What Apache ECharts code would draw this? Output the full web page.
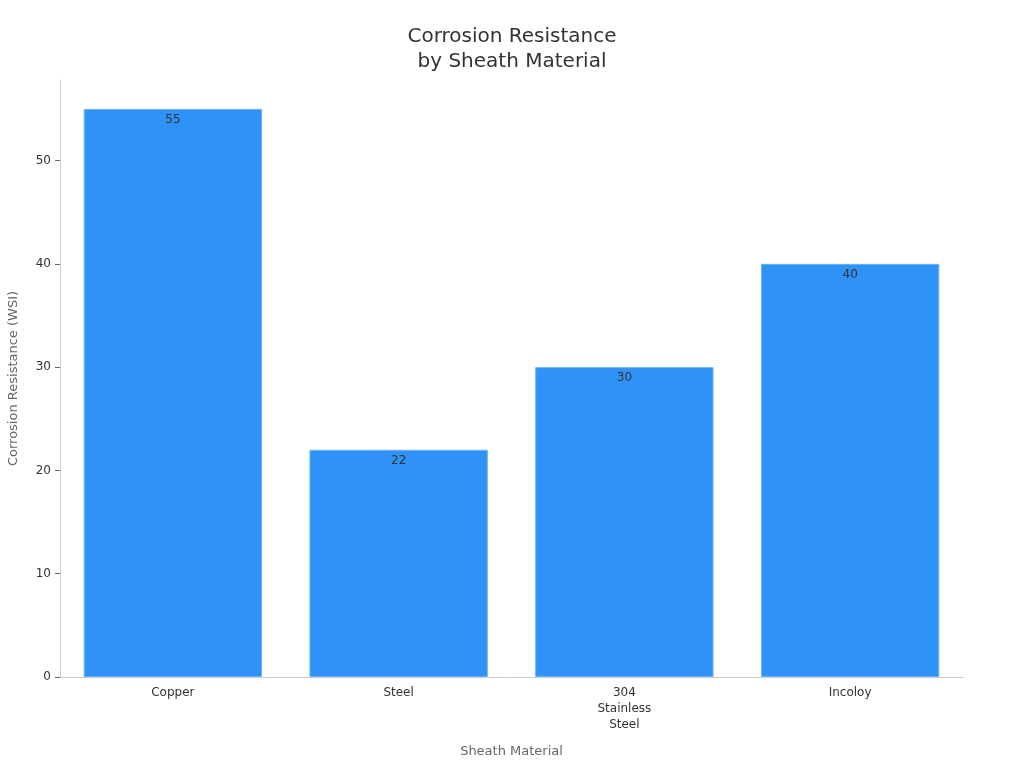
<!DOCTYPE html>
<html>
<head>
<meta charset="utf-8">
<script src="https://cdn.jsdelivr.net/npm/echarts@6/dist/echarts.min.js"></script>
<style>
    html, body { margin: 0; padding: 0; background: #fff; }
    #chart { width: 1024px; height: 768px; }
</style>
</head>
<body>
<div id="chart"></div>
<script>
var categories = ['Copper', 'Steel', '304\nStainless\nSteel', 'Incoloy'];
var resistance = [55, 22, 30, 40];
var yTicks = [0, 10, 20, 30, 40, 50];

(function () {
    var option = {
        textStyle: { fontFamily: 'DejaVu Sans' },
        title: {
            text: 'Corrosion Resistance\nby Sheath Material',
            left: 'center',
            top: 19,
            textStyle: { fontSize: 20, fontWeight: 'normal', color: '#333', lineHeight: 25, fontFamily: 'DejaVu Sans' }
        },
        grid: { left: 60, right: 61, top: 80, bottom: 91, outerBoundsMode: 'none' },
        xAxis: {
            type: 'category',
            data: categories,
            name: 'Sheath Material',
            nameLocation: 'middle',
            nameGap: 68,
            nameTextStyle: { fontSize: 13, color: '#666' },
            axisLine: { lineStyle: { color: '#ccc' } },
            axisTick: { alignWithLabel: true, length: 4, lineStyle: { color: '#888' } },
            axisLabel: { fontSize: 12, color: '#333', lineHeight: 16, margin: 8 }
        },
        yAxis: {
            type: 'value',
            min: 0,
            max: 57.8,
            interval: 10,
            name: 'Corrosion Resistance (WSI)',
            nameLocation: 'middle',
            nameGap: 40,
            nameTextStyle: { fontSize: 13, color: '#666' },
            axisLine: { show: true, lineStyle: { color: '#ccc' } },
            axisTick: { show: true, length: 5, customValues: yTicks, lineStyle: { color: '#666' } },
            splitLine: { show: false },
            axisLabel: { fontSize: 12, color: '#333', margin: 9, customValues: yTicks }
        },
        series: [
            {
                name: 'Corrosion Resistance',
                type: 'bar',
                data: resistance,
                barCategoryGap: '21%',
                itemStyle: { color: '#2f92f7', borderColor: '#6ab2f8', borderWidth: 1 },
                label: {
                    show: true,
                    position: 'insideTop',
                    distance: 5,
                    fontSize: 12,
                    color: '#333'
                }
            }
        ]
    };

    var myChart = echarts.init(document.getElementById('chart'));
    myChart.setOption(option);
})();
</script>
</body>
</html>
